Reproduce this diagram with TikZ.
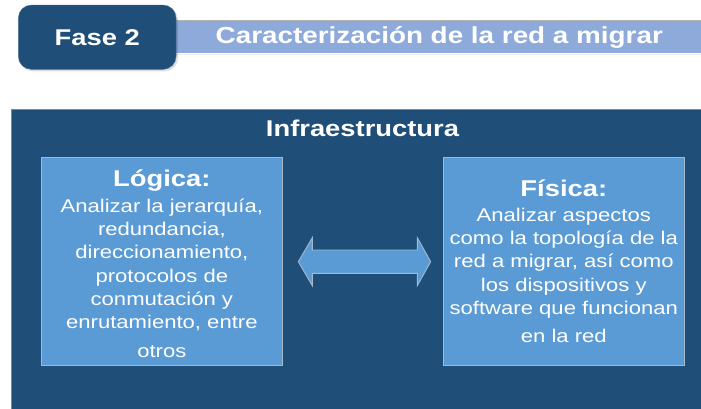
\documentclass[tikz,border=0pt]{standalone}
\usepackage{fontspec}
\setmainfont{Liberation Sans}[FakeStretch=1.2]
\definecolor{navy}{HTML}{1F4E79}
\definecolor{lightblue}{HTML}{5B9BD5}
\definecolor{barblue}{HTML}{8EAADB}
\definecolor{edgegray}{HTML}{A5B8CC}
\begin{document}
\begin{tikzpicture}[x=1pt,y=-1pt,
  headfont/.style={font=\fontsize{22.8}{26}\selectfont\bfseries},
  panel/.style={draw=edgegray,line width=0.9pt,fill=lightblue,text=white,
    minimum width=240.3pt,minimum height=207.7pt,inner sep=0pt,
    text width=238pt,align=center,font=\fontsize{18.4}{23.3}\selectfont},
  phasebox/.style={fill=navy,draw=navy!80!white,rounded corners=13pt,text=white,
    minimum width=157.7pt,minimum height=64.3pt,inner sep=0pt,headfont},
  titlebar/.style={fill=barblue,text=white,inner sep=0pt,headfont,
    minimum height=32.6pt}]
\useasboundingbox (0,0) rectangle (701,409);
% title bar
\fill[gray!15] (150,54) rectangle (720,55.5);
\node[titlebar,minimum width=570pt,anchor=north west] (bar) at (150,20.7) {};
\draw[gray!60,line width=0.8pt] (bar.north west) -- (bar.north east);
\node[font=\fontsize{23.2}{26}\selectfont\bfseries,text=white,anchor=center] (title) at (439.3,37) {Caracterización de la red a migrar};
% phase box with shadow
\fill[black,opacity=0.13,rounded corners=13pt] (19.8,6.8) rectangle (178,71.3);
\node[phasebox] (fase) at (97.2,37.2) {Fase 2};
% outer frame
\path[fill=navy,draw=gray!60!navy!80!white,line width=1pt] (11.7,110) rectangle (720,430);
\node[headfont,text=white,anchor=base] (infra) at (362.5,136) {Infraestructura};
% panels
\node[panel] (logica) at (161.85,261.2) {\rule{0pt}{21.5pt}{\fontsize{22.8}{26}\selectfont\bfseries Lógica:}\\[2.3pt]
Analizar la jerarquía,\\
redundancia,\\
direccionamiento,\\
protocolos de\\
conmutación y\\
enrutamiento, entre\\[5.1pt]
otros};
\node[panel] (fisica) at (563.8,261.2) {{\fontsize{22.8}{26}\selectfont\bfseries Física:}\\[1.5pt]
Analizar aspectos\\
como la topología de la\\
red a migrar, así como\\
los dispositivos y\\
software que funcionan\\[4.5pt]
en la red};
% double block arrow between the panels
\coordinate (la) at (298.3,261.7);
\coordinate (ra) at (430.7,261.7);
\draw[fill=lightblue,draw=edgegray,line width=0.9pt,line join=miter]
  (la) -- ++(14,-24) -- ++(0,12.3) -- ++(105,0) -- ++(0,-12.3) -- (ra)
  -- ++(-13.4,24) -- ++(0,-12.3) -- ++(-105,0) -- ++(0,12.3) -- cycle;
\end{tikzpicture}
\end{document}
